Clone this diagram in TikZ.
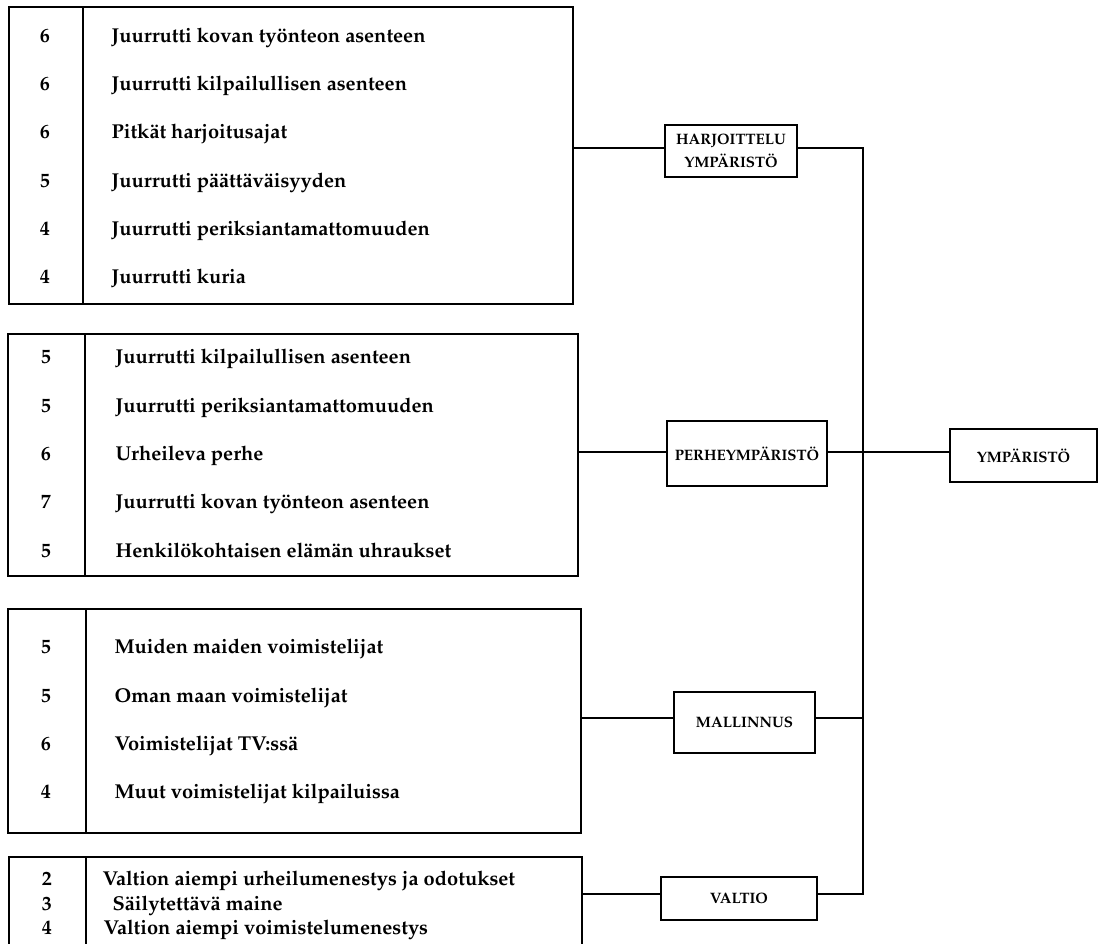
\documentclass[tikz,border=0pt]{standalone}
\usepackage[T1]{fontenc}
\usepackage{mathpazo}
\newlength\refwA
\newlength\refwB
\settowidth\refwA{\fontsize{10}{12}\selectfont\bfseries Juurrutti kovan työnteon asenteen}
\settowidth\refwB{\fontsize{10}{12}\selectfont\bfseries PERHEYMPÄRISTÖ}
\pgfmathsetmacro\rowsize{10*301/\refwA}
\pgfmathsetmacro\catsize{10*146/\refwB}
\newcommand{\rowfnt}{\fontsize{\rowsize}{\rowsize}\selectfont\bfseries}
\newcommand{\catfnt}{\fontsize{\catsize}{23}\selectfont\bfseries}
\begin{document}
\begin{tikzpicture}[x=1pt,y=-1pt,line width=1.2pt,
  listbox/.style={draw,anchor=north west,inner sep=0pt,outer sep=0pt},
  catbox/.style={draw,font=\catfnt,align=center,inner sep=0pt,outer sep=0pt},
  numtxt/.style={font=\rowfnt,anchor=base,inner sep=0pt},
  itemtxt/.style={font=\rowfnt,anchor=base west,inner sep=0pt},
  conn/.style={draw,line width=1.2pt}]
\useasboundingbox (0,0) rectangle (1099,943);
% list boxes
\node[listbox,minimum width=564pt,minimum height=297pt] (b1) at (9,7) {};
\node[listbox,minimum width=570pt,minimum height=242pt] (b2) at (8,334) {};
\node[listbox,minimum width=573pt,minimum height=224pt] (b3) at (8,609) {};
\node[listbox,minimum width=573pt,minimum height=100pt] (b4) at (9,857) {};
\draw ([xshift=74pt]b1.north west) -- ([xshift=74pt]b1.south west);
\draw ([xshift=77pt]b2.north west) -- ([xshift=77pt]b2.south west);
\draw ([xshift=78pt]b3.north west) -- ([xshift=78pt]b3.south west);
\draw ([xshift=77pt]b4.north west) -- ([xshift=77pt]b4.south west);
% box 1 rows
\foreach \n/\y/\t [count=\i] in {6/42/Juurrutti kovan työnteon asenteen,
  6/90/Juurrutti kilpailullisen asenteen,
  6/138/Pitkät harjoitusajat,
  5/187/Juurrutti päättäväisyyden,
  4/235/Juurrutti periksiantamattomuuden,
  4/283/Juurrutti kuria}{
  \node[numtxt] (an\i) at (45,\y) {\n};
  \node[itemtxt] (at\i) at (111,\y) {\t};
}
% box 2 rows
\foreach \n/\y/\t [count=\i] in {5/363/Juurrutti kilpailullisen asenteen,
  5/412/Juurrutti periksiantamattomuuden,
  6/460/Urheileva perhe,
  7/508/Juurrutti kovan työnteon asenteen,
  5/557/Henkilökohtaisen elämän uhraukset}{
  \node[numtxt] (bn\i) at (46,\y) {\n};
  \node[itemtxt] (bt\i) at (115,\y) {\t};
}
% box 3 rows
\foreach \n/\y/\t [count=\i] in {5/653/Muiden maiden voimistelijat,
  5/702/Oman maan voimistelijat,
  6/750/Voimistelijat TV:ssä,
  4/798/Muut voimistelijat kilpailuissa}{
  \node[numtxt] (cn\i) at (46,\y) {\n};
  \node[itemtxt] (ct\i) at (114,\y) {\t};
}
% box 4 rows
\foreach \n/\y/\x/\t [count=\i] in {2/885/102/Valtion aiempi urheilumenestys ja odotukset,
  3/910/112/Säilytettävä maine,
  4/934/103/Valtion aiempi voimistelumenestys}{
  \node[numtxt] (dn\i) at (47,\y) {\n};
  \node[itemtxt] (dt\i) at (\x,\y) {\t};
}
% category boxes
\node[catbox,minimum width=132pt,minimum height=52pt] (harj) at (731,151) {HARJOITTELU\\YMPÄRISTÖ};
\node[catbox,minimum width=160pt,minimum height=65pt] (perhe) at (747,453.5) {PERHEYMPÄRISTÖ};
\node[catbox,minimum width=141pt,minimum height=61pt] (mall) at (744.5,722.5) {MALLINNUS};
\node[catbox,minimum width=156pt,minimum height=43pt] (valtio) at (739,898.5) {VALTIO};
\node[catbox,minimum width=147pt,minimum height=53pt] (ymp) at (1023.5,455.5) {YMPÄRISTÖ};
\coordinate (bus) at (863,0);
% connectors
\draw[conn] ([yshift=3pt]harj.west) -- ([yshift=3pt]harj.west -| b1.east);
\draw[conn] ([yshift=1.5pt]perhe.west) -- ([yshift=1.5pt]perhe.west -| b2.east);
\draw[conn] ([yshift=4.5pt]mall.west) -- ([yshift=4.5pt]mall.west -| b3.east);
\draw[conn] ([yshift=4.5pt]valtio.west) -- ([yshift=4.5pt]valtio.west -| b4.east);
\draw[conn] ([yshift=1.5pt]perhe.east) -- ([yshift=1.5pt]perhe.east -| ymp.west);
\draw[conn] ([yshift=3pt]harj.east) -| ([yshift=4.5pt]valtio.east -| bus) -- ([yshift=4.5pt]valtio.east);
\draw[conn] ([yshift=4.5pt]mall.east) -- ([yshift=4.5pt]mall.east -| bus);
\end{tikzpicture}
\end{document}
